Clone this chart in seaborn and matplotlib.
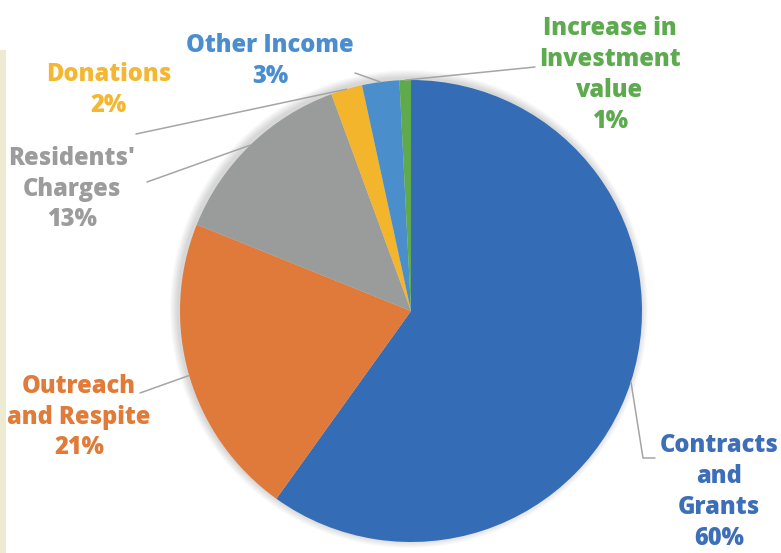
import numpy as np
import matplotlib
matplotlib.use('Agg')
import matplotlib.pyplot as plt
import seaborn as sns
from matplotlib.patches import Rectangle

# Income sources, clockwise from 12 o'clock
categories = ['Contracts\nand\nGrants', 'Outreach\nand Respite', "Residents'\nCharges",
              'Donations', 'Other Income', 'Increase in\nInvestment\nvalue']
shares = [59.9, 21.2, 13.3, 2.2, 2.6, 0.8]

slice_colors = ['#346DB6', '#E07A3A', '#9A9B9B', '#F3B52B', '#4A8ECB', '#5EAA4C']
text_colors = ['#3D6FB8', '#E07B3A', '#9C9C9C', '#F4B731', '#4A8ED0', '#5DAA4F']

sns.set_theme(style='white')
plt.rcParams['font.family'] = ['Open Sans', 'DejaVu Sans']

W, H = 781, 553


def px(x, y):
    # pixel position (origin top-left) -> data coords
    return x, H - y


fig = plt.figure(figsize=(7.81, 5.53), dpi=100)
ax = fig.add_axes([0, 0, 1, 1])

# soft shadow round the pie
cx, cy = px(411, 311)
R = 231
for k in range(8):
    ax.add_patch(plt.Circle((cx - 2, cy + 2), R + 1 + k, color='black',
                            alpha=0.018, lw=0, zorder=0))

wedges, _ = ax.pie(shares, colors=sns.color_palette(slice_colors),
                   startangle=90, counterclock=False, center=(cx, cy), radius=R,
                   frame=True, wedgeprops=dict(linewidth=0))

# label block centres and leader line ends (pixel coords)
label_pos = [(719, 492), (79, 417), (72, 189), (109, 90), (270, 61), (610, 75)]
leader_ends = [[(643, 458), (655, 458)], [(140, 393)], [(147, 182)],
               [(136, 134)], [(355, 73)], [(535, 67)]]

for w, cat, val, tc, pos, ends in zip(wedges, categories, shares, text_colors,
                                     label_pos, leader_ends):
    mid = np.deg2rad((w.theta1 + w.theta2) / 2)
    start = (cx + R * np.cos(mid), cy + R * np.sin(mid))
    pts = [start] + [px(*p) for p in ends]
    xs, ys = zip(*pts)
    ax.plot(xs, ys, color='#A5A5A5', lw=1.1, zorder=1)
    ax.text(*px(*pos), f'{cat}\n{round(val)}%', ha='center', va='center',
            multialignment='center', fontsize=17, fontweight='heavy',
            color=tc, linespacing=1.3)

# strip of the page behind, left edge
ax.add_patch(Rectangle(px(0, 553), 6, 503, color='#EEEBD3', lw=0, zorder=0))

ax.set_xlim(0, W)
ax.set_ylim(0, H)
ax.set_aspect('equal')
ax.axis('off')

fig.savefig('out.png', dpi=100)
